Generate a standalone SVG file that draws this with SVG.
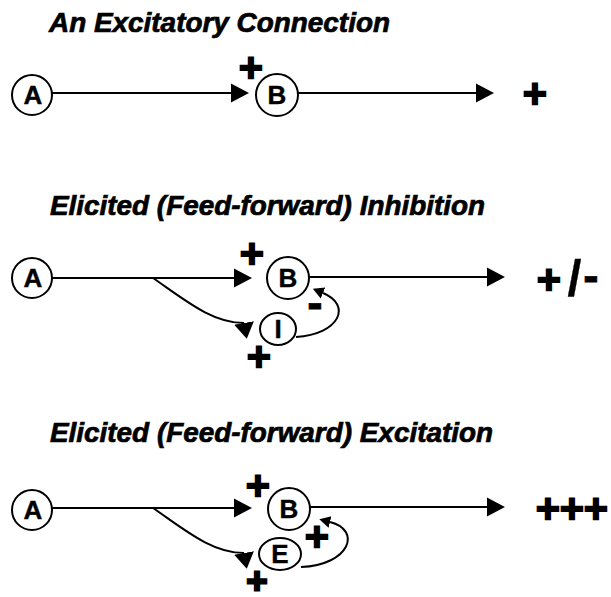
<svg xmlns="http://www.w3.org/2000/svg" width="611" height="597" viewBox="0 0 611 597">
  <style>
    .title { font-family: "Liberation Sans", Arial, sans-serif; font-weight: bold; font-style: italic; font-size: 27px; fill: #000; stroke: #000; stroke-width: 0.7; }
    .cell { fill: #fff; stroke: #000; stroke-width: 2; }
    .lbl { font-family: "Liberation Sans", Arial, sans-serif; font-weight: bold; font-size: 26px; text-anchor: middle; fill: #000; stroke: #000; stroke-width: 0.4; }
    .sign { font-family: "DejaVu Sans", "Liberation Sans", sans-serif; font-weight: bold; font-size: 32px; text-anchor: middle; fill: #000; stroke: #000; stroke-width: 2.5; }
    .dash { font-family: "Liberation Sans", Arial, sans-serif; font-weight: bold; font-size: 46px; text-anchor: middle; fill: #000; stroke: #000; stroke-width: 0.8; }
    .slash { font-family: "Liberation Sans", Arial, sans-serif; font-weight: bold; font-size: 50px; text-anchor: middle; fill: #000; stroke: #000; stroke-width: 0.3; }
    .wire { fill: none; stroke: #000; stroke-width: 2; }
  </style>
  <defs>
    <marker id="head" markerUnits="userSpaceOnUse" viewBox="0 -10 18 20" markerWidth="18" markerHeight="20" refX="0" refY="0" orient="auto">
      <path d="M0,-9.5 L18,0 L0,9.5 Z" fill="#000"/>
    </marker>
    <marker id="headDown" markerUnits="userSpaceOnUse" viewBox="0 -11 17 22" markerWidth="17" markerHeight="22" refX="0" refY="0" orient="80">
      <path d="M0,-10 L16,0 L0,10 Z" fill="#000"/>
    </marker>
    <marker id="headSmall" markerUnits="userSpaceOnUse" viewBox="0 -7 12 14" markerWidth="12" markerHeight="14" refX="0" refY="0" orient="auto">
      <path d="M0,-6 L11,0 L0,6 Z" fill="#000"/>
    </marker>
  </defs>

  <!-- section titles -->
  <text class="title" x="49" y="32" textLength="341" lengthAdjust="spacingAndGlyphs">An Excitatory Connection</text>
  <text class="title" x="50" y="215" textLength="435" lengthAdjust="spacingAndGlyphs">Elicited (Feed-forward) Inhibition</text>
  <text class="title" x="50" y="442" textLength="443" lengthAdjust="spacingAndGlyphs">Elicited (Feed-forward) Excitation</text>

  <!-- connectors -->
  <g id="connectors">
    <!-- excitatory connection -->
    <path class="wire" d="M52,93 H231" marker-end="url(#head)"/>
    <path class="wire" d="M298,93 H476" marker-end="url(#head)"/>
    <!-- feed-forward inhibition -->
    <path class="wire" d="M52,278 H234" marker-end="url(#head)"/>
    <path class="wire" d="M309,277 H487" marker-end="url(#head)"/>
    <path class="wire" d="M153,278 C185,300 212,323 244,323" marker-end="url(#headDown)"/>
    <path class="wire" d="M296,337 C340,334 352,305 323,293" marker-end="url(#headSmall)"/>
    <!-- feed-forward excitation -->
    <path class="wire" d="M52,508 H234" marker-end="url(#head)"/>
    <path class="wire" d="M310,507 H487" marker-end="url(#head)"/>
    <path class="wire" d="M153,508 C185,530 212,553 244,553" marker-end="url(#headDown)"/>
    <path class="wire" d="M301,567 C350,565 362,530 330,522" marker-end="url(#headSmall)"/>
  </g>

  <!-- excitatory connection nodes -->
  <g id="ex-A">
    <circle class="cell" cx="32" cy="95" r="20"/>
    <text class="lbl" x="33" y="104">A</text>
  </g>
  <g id="ex-B">
    <circle class="cell" cx="277" cy="95" r="21"/>
    <text class="lbl" x="277" y="104">B</text>
  </g>

  <!-- feed-forward inhibition nodes -->
  <g id="inh-A">
    <circle class="cell" cx="32" cy="278" r="20"/>
    <text class="lbl" x="33" y="287">A</text>
  </g>
  <g id="inh-B">
    <circle class="cell" cx="288" cy="278" r="21"/>
    <text class="lbl" x="288" y="287">B</text>
  </g>
  <g id="inh-I">
    <ellipse class="cell" cx="278" cy="329" rx="18" ry="16"/>
    <text class="lbl" x="278" y="338">I</text>
  </g>

  <!-- feed-forward excitation nodes -->
  <g id="exc-A">
    <circle class="cell" cx="32" cy="510" r="20"/>
    <text class="lbl" x="33" y="519">A</text>
  </g>
  <g id="exc-B">
    <circle class="cell" cx="289" cy="509" r="21"/>
    <text class="lbl" x="289" y="518">B</text>
  </g>
  <g id="exc-E">
    <ellipse class="cell" cx="280" cy="554" rx="21" ry="16"/>
    <text class="lbl" x="280" y="563">E</text>
  </g>

  <!-- synaptic signs and outcomes -->
  <g id="signs">
    <text class="sign" x="251" y="78">+</text>
    <text class="sign" x="535" y="104">+</text>

    <text class="sign" x="252" y="264">+</text>
    <text class="sign" x="259" y="367">+</text>
    <text class="dash" x="315" y="318">-</text>
    <text class="sign" x="549" y="290">+<tspan class="slash" x="574.5" y="295">/</tspan><tspan class="dash" x="591" y="291">-</tspan></text>

    <text class="sign" x="258" y="496">+</text>
    <text class="sign" x="317" y="547">+</text>
    <text class="sign" x="257" y="590" style="font-size:28px;stroke-width:3">+</text>
    <text class="sign" x="548 572 596" y="519">+++</text>
  </g>
</svg>
